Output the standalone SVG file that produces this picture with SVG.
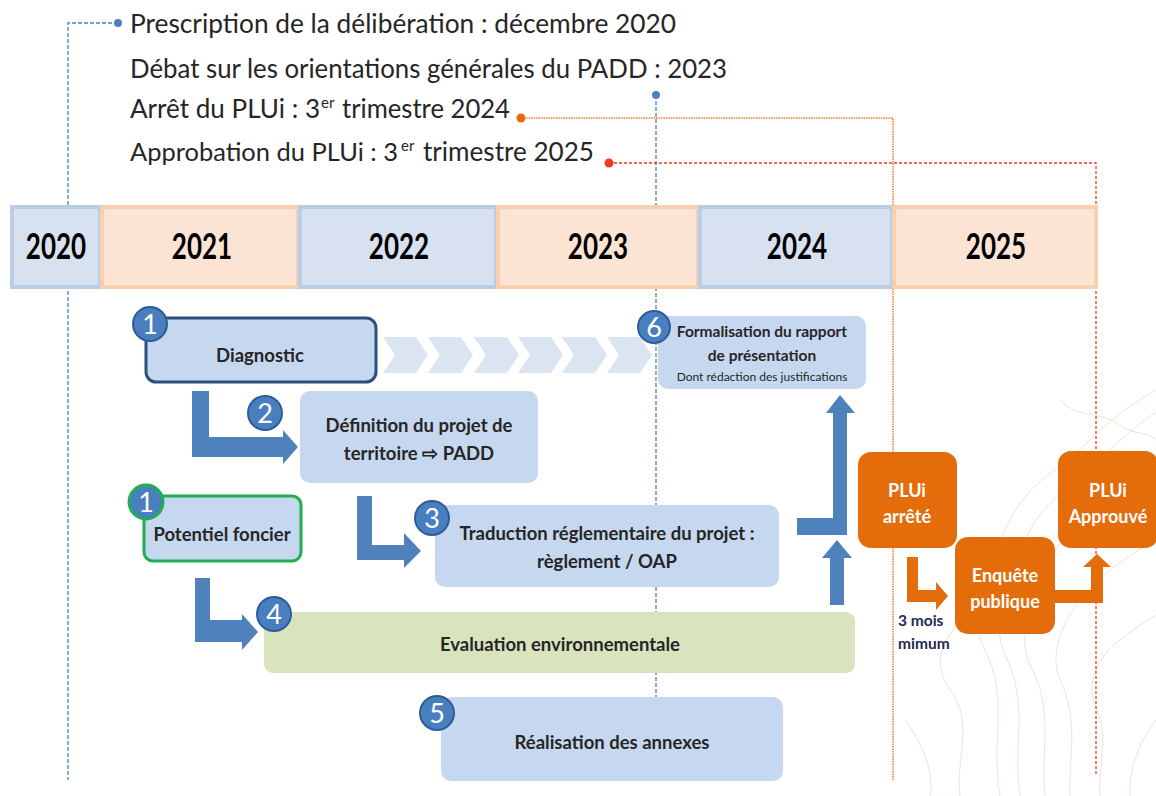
<svg xmlns="http://www.w3.org/2000/svg" width="1156" height="796" viewBox="0 0 1156 796">
<defs>
<style>
.top{font-family:Lato,"Liberation Sans",sans-serif;font-size:26.5px;fill:#262626}
.sup{font-family:Lato,"Liberation Sans",sans-serif;font-size:15px;fill:#262626}
.yr{font-family:Lato,"Liberation Sans",sans-serif;font-size:26px;font-weight:bold;fill:#000;text-anchor:middle}
.cb{fill:#d7e1ef;stroke:#b9cde6;stroke-width:4}
.co{fill:#fce4d5;stroke:#f9cfae;stroke-width:4}
.box{fill:#c6d8ef}
.lbl{font-family:Lato,"Liberation Sans",sans-serif;font-size:18.5px;font-weight:bold;fill:#262626;text-anchor:middle}
.badge{fill:#4a7fbf;stroke:#2e5c9a;stroke-width:2}
.num{font-family:Lato,"Liberation Sans",sans-serif;font-size:27px;fill:#fff;text-anchor:middle}
.barr{fill:#4f81bd}
.oarr{fill:#e46c0a}
.obox{fill:#e46c0a}
.olbl{font-family:Lato,"Liberation Sans",sans-serif;font-size:18px;font-weight:bold;fill:#fff;text-anchor:middle}
.chev{fill:#dbe5f1}
.bl{fill:none;stroke:#4f81bd;stroke-width:1.3;stroke-dasharray:4 2}
.ol{fill:none;stroke:#ee7d31;stroke-width:1.5;stroke-dasharray:1.5 1}
.rl{fill:none;stroke:#f03b20;stroke-width:1.3;stroke-dasharray:3 2}
.topo{fill:none;stroke:#f1c6a6;stroke-width:1;opacity:0.55}
.dl{font-family:Lato,"Liberation Sans",sans-serif;font-size:15.5px;font-weight:bold;fill:#1f2a52}
</style>
</defs>

<g id="background-contours">
<path class="topo" d="M1000,796 C990,740 1010,700 985,650 C965,610 990,560 1010,520 C1030,480 1060,470 1090,440 C1120,410 1140,400 1156,390"/>
<path class="topo" d="M1020,796 C1012,745 1030,705 1005,655 C988,615 1010,570 1030,530 C1050,495 1075,485 1105,455 C1130,430 1145,420 1156,412"/>
<path class="topo" d="M1045,796 C1040,750 1055,710 1030,665 C1015,630 1035,590 1050,560 C1065,530 1095,515 1120,490 C1138,470 1150,462 1156,458"/>
<path class="topo" d="M1070,796 C1068,760 1080,720 1060,680 C1048,650 1065,620 1080,600 C1095,580 1120,560 1156,540"/>
<path class="topo" d="M1100,796 C1098,765 1110,735 1095,705 C1085,680 1100,655 1120,640 C1135,628 1148,620 1156,615"/>
<path class="topo" d="M960,796 C955,760 975,720 950,690 C930,660 945,640 960,620"/>
<path class="topo" d="M930,796 C935,770 920,740 905,720"/>
<path class="topo" d="M1130,796 C1128,770 1140,740 1156,720"/>
<path class="topo" d="M1060,400 C1080,420 1100,410 1120,425 C1135,436 1145,430 1156,440"/>
</g>

<g id="connectors">
<path class="bl" d="M118,23 H68 V780"/>
<circle cx="118" cy="23" r="4" fill="#4f81bd"/>
<path class="bl" d="M656,95 V697"/>
<circle cx="656" cy="95" r="4" fill="#4f81bd"/>
<path class="ol" d="M521,118 H893 V780"/>
<circle cx="521" cy="118" r="4.5" fill="#e46c0a"/>
<path class="rl" d="M609,163 H1096 V776"/>
<circle cx="609" cy="163" r="4.5" fill="#f03b20"/>
</g>

<g id="timeline">
<rect class="cb" x="12" y="207" width="88" height="80"/>
<rect class="co" x="102" y="207" width="196" height="80"/>
<rect class="cb" x="300" y="207" width="196" height="80"/>
<rect class="co" x="498" y="207" width="200" height="80"/>
<rect class="cb" x="700" y="207" width="192" height="80"/>
<rect class="co" x="894" y="207" width="202" height="80"/>
<text class="yr" transform="translate(56,259) scale(1,1.4)">2020</text>
<text class="yr" transform="translate(202,259) scale(1,1.4)">2021</text>
<text class="yr" transform="translate(399,259) scale(1,1.4)">2022</text>
<text class="yr" transform="translate(598,259) scale(1,1.4)">2023</text>
<text class="yr" transform="translate(797,259) scale(1,1.4)">2024</text>
<text class="yr" transform="translate(996,259) scale(1,1.4)">2025</text>
</g>

<g id="milestones">
<text class="top" x="130" y="33" textLength="546" lengthAdjust="spacingAndGlyphs">Prescription de la délibération : décembre 2020</text>
<text class="top" x="130" y="78" textLength="597" lengthAdjust="spacingAndGlyphs">Débat sur les orientations générales du PADD : 2023</text>
<text class="top" x="130" y="118" textLength="190" lengthAdjust="spacingAndGlyphs">Arrêt du PLUi : 3</text>
<text class="sup" x="321" y="108">er</text>
<text class="top" x="342" y="118" textLength="168" lengthAdjust="spacingAndGlyphs">trimestre 2024</text>
<text class="top" x="130" y="161" style="font-size:25.5px" textLength="268" lengthAdjust="spacingAndGlyphs">Approbation du PLUi : 3</text>
<text class="sup" x="401" y="151">er</text>
<text class="top" x="423" y="161" textLength="171" lengthAdjust="spacingAndGlyphs">trimestre 2025</text>
</g>

<g id="chevrons">
<path class="chev" d="M383,337 H416 L428,355 L416,373 H383 L395,355 Z"/>
<path class="chev" d="M428,337 H461 L473,355 L461,373 H428 L440,355 Z"/>
<path class="chev" d="M474,337 H507 L519,355 L507,373 H474 L486,355 Z"/>
<path class="chev" d="M518,337 H551 L563,355 L551,373 H518 L530,355 Z"/>
<path class="chev" d="M562,337 H595 L607,355 L595,373 H562 L574,355 Z"/>
<path class="chev" d="M607,337 H640 L652,355 L640,373 H607 L619,355 Z"/>
</g>

<g id="arrows">
<path class="barr" d="M192,391 H209 V437 H283 V430 L298,447 L283,464 V457 H192 Z"/>
<path class="barr" d="M357,496 H372 V545 H404 V533 L421,551 L404,568 V560 H357 Z"/>
<path class="barr" d="M195,578 H210 V620 H242 V614 L258,632 L242,650 V642 H195 Z"/>
<path class="barr" d="M797,518 H833 V413 H826 L840,395 L855,413 H847 V535 H797 Z"/>
<path class="barr" d="M830,605 V558 H822 L837,540 L852,558 H844 V605 Z"/>
<path class="oarr" d="M907,557 H918 V590 H936 V582 L948,596 L936,610 V602 H907 Z"/>
<path class="oarr" d="M1055,590 H1091 V567 H1083 L1097,554 L1111,567 H1103 V603 H1055 Z"/>
</g>

<g id="step6">
<rect class="box" x="658" y="316" width="208" height="73" rx="10"/>
<text class="lbl" x="762" y="337" style="font-size:15.5px">Formalisation du rapport</text>
<text class="lbl" x="762" y="361" style="font-size:15.5px">de présentation</text>
<text class="lbl" x="762" y="381" style="font-size:12px;font-weight:normal">Dont rédaction des justifications</text>
<circle class="badge" cx="654" cy="327" r="16"/>
<text class="num" x="654" y="337">6</text>
</g>

<g id="step1-diagnostic">
<rect class="box" x="146" y="318" width="230" height="64" rx="10" style="stroke:#2d4f7c;stroke-width:3"/>
<text class="lbl" x="260" y="362">Diagnostic</text>
<circle class="badge" cx="150" cy="324" r="17"/>
<text class="num" x="150" y="334">1</text>
</g>

<g id="step2-definition">
<rect class="box" x="300" y="391" width="238" height="92" rx="10"/>
<text class="lbl" x="419" y="432">Définition du projet de</text>
<text class="lbl" x="419" y="460">territoire ⇨ PADD</text>
<circle class="badge" cx="265" cy="413" r="17"/>
<text class="num" x="265" y="423">2</text>
</g>

<g id="step1-potentiel">
<rect class="box" x="144" y="496" width="157" height="65" rx="9" style="stroke:#1fae50;stroke-width:3"/>
<text class="lbl" x="222" y="541">Potentiel foncier</text>
<circle class="badge" cx="146" cy="502" r="17" style="stroke:#1fae50;stroke-width:3"/>
<text class="num" x="146" y="512">1</text>
</g>

<g id="step3-traduction">
<rect class="box" x="435" y="505" width="344" height="82" rx="10"/>
<text class="lbl" x="607" y="540">Traduction réglementaire du projet :</text>
<text class="lbl" x="607" y="568">règlement / OAP</text>
<circle class="badge" cx="432" cy="518" r="17"/>
<text class="num" x="432" y="528">3</text>
</g>

<g id="step4-evaluation">
<rect x="264" y="612" width="591" height="61" rx="9" fill="#d7e4bd"/>
<text class="lbl" x="560" y="651">Evaluation environnementale</text>
<circle class="badge" cx="274" cy="614" r="17"/>
<text class="num" x="274" y="624">4</text>
</g>

<g id="step5-annexes">
<rect class="box" x="441" y="697" width="342" height="84" rx="10"/>
<text class="lbl" x="612" y="749">Réalisation des annexes</text>
<circle class="badge" cx="437" cy="713" r="17"/>
<text class="num" x="437" y="723">5</text>
</g>

<g id="plui-arrete">
<rect class="obox" x="858" y="452" width="99" height="96" rx="13"/>
<text class="olbl" x="907" y="497">PLUi</text>
<text class="olbl" x="907" y="523">arrêté</text>
</g>

<g id="enquete">
<rect class="obox" x="955" y="537" width="100" height="97" rx="13"/>
<text class="olbl" x="1005" y="582">Enquête</text>
<text class="olbl" x="1005" y="608">publique</text>
</g>

<g id="plui-approuve">
<rect class="obox" x="1058" y="451" width="100" height="97" rx="13"/>
<text class="olbl" x="1108" y="497">PLUi</text>
<text class="olbl" x="1108" y="523">Approuvé</text>
</g>

<g id="delay-label">
<text class="dl" x="898" y="626">3 mois</text>
<text class="dl" x="898" y="649">mimum</text>
</g>
</svg>
